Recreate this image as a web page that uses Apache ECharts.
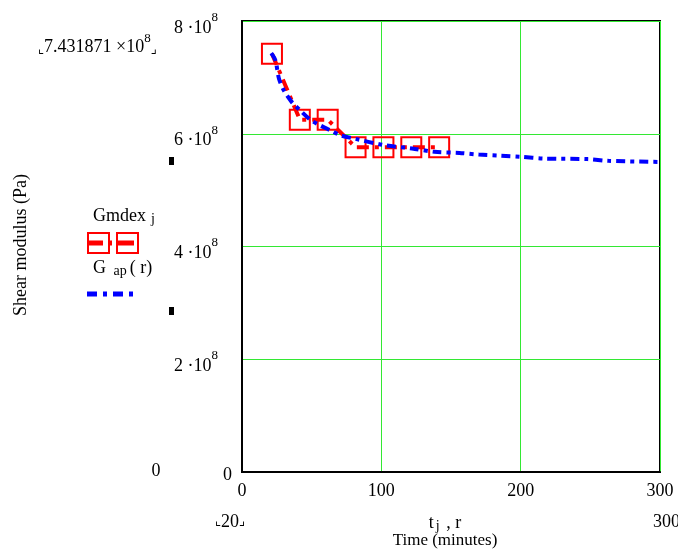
<!DOCTYPE html>
<html>
<head>
<meta charset="utf-8">
<script src="https://cdn.jsdelivr.net/npm/echarts@6/dist/echarts.min.js"></script>
<style>
  html, body { margin: 0; padding: 0; background: #fff; }
  #chart { width: 678px; height: 552px; }
</style>
</head>
<body>
<div id="chart"></div>
<script>
// measured data (time in minutes, shear modulus in Pa)
const tj = [21.5, 41.5, 61.5, 81.5, 101.5, 121.5, 141.5]
const gmdex = [7.42e8, 6.25e8, 6.25e8, 5.76e8, 5.76e8, 5.76e8, 5.76e8]
const r = [21, 24, 26.5, 30, 35.5, 41.5, 49, 56, 63.5, 71, 81.5, 101.5, 122, 138, 156, 170, 186, 200, 217, 248, 263, 300]
const gap = [7.43e8, 7.30e8, 6.98e8, 6.77e8, 6.57e8, 6.42e8, 6.25e8, 6.15e8, 6.06e8, 5.97e8, 5.91e8, 5.80e8, 5.74e8,
  5.68e8, 5.66e8, 5.63e8, 5.61e8, 5.59e8, 5.56e8, 5.55e8, 5.52e8, 5.50e8]
const xTicks = [0, 100, 200, 300]
const yTicks = [0, 2e8, 4e8, 6e8, 8e8]

const serif = '"Liberation Serif", "DejaVu Serif", serif'
const green = '#33e833'

const chart = echarts.init(document.getElementById('chart'))

chart.setOption({
  animation: false,
  backgroundColor: '#fff',
  textStyle: { fontFamily: serif, color: '#000' },
  grid: {
    left: 242, right: 18, top: 21, bottom: 80,
    show: true, borderColor: '#000', borderWidth: 2,
  },
  xAxis: {
    type: 'value',
    min: xTicks[0],
    max: xTicks[xTicks.length - 1],
    interval: 100,
    axisLine: { show: true, lineStyle: { color: '#000', width: 2 } },
    axisTick: { show: false },
    splitLine: { show: true, lineStyle: { color: green, width: 1 } },
    axisLabel: { color: '#000', fontFamily: serif, fontSize: 18, margin: 10 },
  },
  yAxis: {
    type: 'value',
    min: yTicks[0],
    max: yTicks[yTicks.length - 1],
    interval: 2e8,
    axisLine: { show: true, lineStyle: { color: '#000', width: 2 } },
    axisTick: { show: false },
    splitLine: { show: true, lineStyle: { color: green, width: 1 } },
    axisLabel: {
      margin: 10,
      padding: [6, 0, 0, 0],
      formatter: v => v === 0 ? '{z|0}' : `{b|${v / 1e8} ·10}{sup|8}{gap| }`,
      rich: {
        z: { fontFamily: serif, fontSize: 18, color: '#000' },
        b: { fontFamily: serif, fontSize: 18, color: '#000', lineHeight: 26, verticalAlign: 'bottom' },
        sup: { fontFamily: serif, fontSize: 13, color: '#000', lineHeight: 10, verticalAlign: 'top' },
        gap: { fontSize: 10, width: 14 },
      },
    },
  },
  series: [
    {
      name: 'Gmdex',
      type: 'line',
      data: tj.map((t, i) => [t, gmdex[i]]),
      symbol: 'rect',
      symbolSize: 20,
      itemStyle: { color: 'rgba(0,0,0,0)', borderColor: '#ff0000', borderWidth: 2 },
      lineStyle: { color: '#ff0000', width: 4, type: [12, 6, 4, 6] },
      z: 2,
    },
    {
      name: 'G ap(r)',
      type: 'line',
      data: r.map((x, i) => [x, gap[i]]),
      showSymbol: false,
      smooth: 0.3,
      lineStyle: { color: '#0000ff', width: 4, type: [9, 5, 4, 5] },
      z: 3,
    },
  ],
  graphic: [
    // y axis title
    {
      type: 'text', x: 21, y: 245, rotation: Math.PI / 2,
      style: { text: 'Shear modulus (Pa)', font: '18px ' + serif, fill: '#000', align: 'center', verticalAlign: 'middle' },
    },
    // x axis titles
    {
      type: 'text', x: 445, y: 523,
      style: {
        text: '{b|t}{s|j}{b| , r}', align: 'center', verticalAlign: 'middle',
        rich: {
          b: { fontFamily: serif, fontSize: 18, fill: '#000', lineHeight: 20 },
          s: { fontFamily: serif, fontSize: 14, fill: '#000', lineHeight: 10, verticalAlign: 'bottom', padding: [0, 2, 0, 2] },
        },
      },
    },
    {
      type: 'text', x: 445, y: 541,
      style: { text: 'Time (minutes)', font: '17px ' + serif, fill: '#000', align: 'center', verticalAlign: 'middle' },
    },
    // corner markers
    {
      type: 'text', x: 38, y: 44,
      style: {
        text: '{c|⌞}{b|7.431871 ×10}{sup|8}{c|⌟}', verticalAlign: 'middle',
        rich: {
          b: { fontFamily: serif, fontSize: 18, fill: '#000', lineHeight: 24, verticalAlign: 'bottom' },
          sup: { fontFamily: serif, fontSize: 13, fill: '#000', lineHeight: 10, verticalAlign: 'top' },
          c: { fontFamily: '"DejaVu Sans", sans-serif', fontSize: 13, fill: '#000', lineHeight: 24, verticalAlign: 'bottom' },
        },
      },
    },
    {
      type: 'text', x: 156, y: 471,
      style: { text: '0', font: '18px ' + serif, fill: '#000', align: 'center', verticalAlign: 'middle' },
    },
    {
      type: 'text', x: 230, y: 522,
      style: {
        text: '{c|⌞}{b|20}{c|⌟}', align: 'center', verticalAlign: 'middle',
        rich: {
          b: { fontFamily: serif, fontSize: 18, fill: '#000', lineHeight: 22 },
          c: { fontFamily: '"DejaVu Sans", sans-serif', fontSize: 13, fill: '#000', lineHeight: 22 },
        },
      },
    },
    {
      type: 'text', x: 653, y: 522,
      style: { text: '300', font: '18px ' + serif, fill: '#000', verticalAlign: 'middle' },
    },
    // marker ticks
    { type: 'rect', shape: { x: 169, y: 157, width: 5, height: 8 }, style: { fill: '#000' } },
    { type: 'rect', shape: { x: 169, y: 307, width: 5, height: 8 }, style: { fill: '#000' } },
    // legend
    {
      type: 'text', x: 93, y: 216,
      style: {
        text: '{b|Gmdex}{s|j}', verticalAlign: 'middle',
        rich: {
          b: { fontFamily: serif, fontSize: 18, fill: '#000', lineHeight: 20 },
          s: { fontFamily: serif, fontSize: 14, fill: '#000', lineHeight: 10, verticalAlign: 'bottom', padding: [0, 0, 0, 5] },
        },
      },
    },
    {
      type: 'line', shape: { x1: 87, y1: 243, x2: 137, y2: 243 },
      style: { stroke: '#ff0000', lineWidth: 5, lineDash: [16, 6, 3, 6] },
    },
    { type: 'rect', shape: { x: 88, y: 233, width: 21, height: 20 }, style: { fill: 'none', stroke: '#ff0000', lineWidth: 2 } },
    { type: 'rect', shape: { x: 117, y: 233, width: 21, height: 20 }, style: { fill: 'none', stroke: '#ff0000', lineWidth: 2 } },
    {
      type: 'text', x: 93, y: 268,
      style: {
        text: '{b|G }{s|ap}{b|( r)}', verticalAlign: 'middle',
        rich: {
          b: { fontFamily: serif, fontSize: 18, fill: '#000', lineHeight: 20 },
          s: { fontFamily: serif, fontSize: 14, fill: '#000', lineHeight: 10, verticalAlign: 'bottom', padding: [0, 3, 0, 3] },
        },
      },
    },
    {
      type: 'line', shape: { x1: 87, y1: 294, x2: 139, y2: 294 },
      style: { stroke: '#0000ff', lineWidth: 5, lineDash: [10, 6, 4, 6] },
    },
  ],
})
</script>
</body>
</html>
